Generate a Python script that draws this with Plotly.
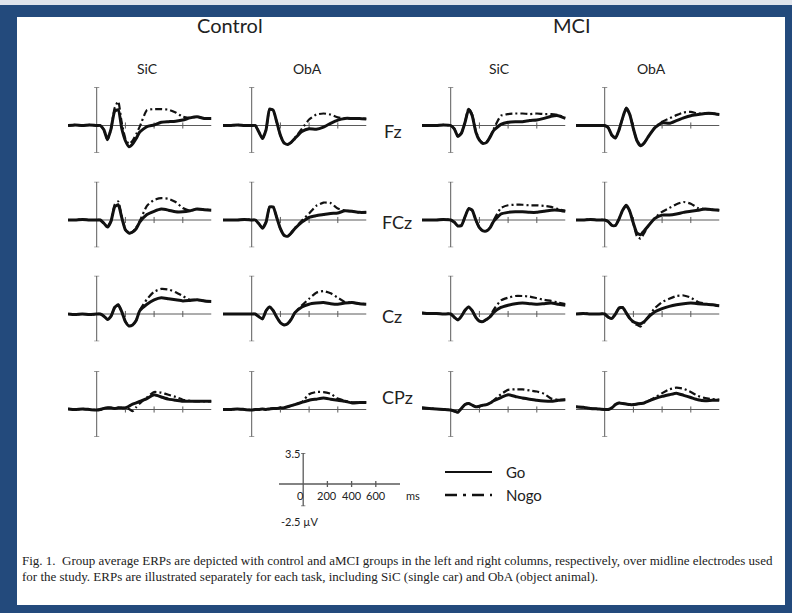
import plotly.graph_objects as go

# ---------------- data ----------------
TIME_MS = [-200, -150, -100, -50, 0, 25, 50, 75, 100, 125, 150, 175, 200, 225, 250,
           275, 300, 350, 400, 450, 500, 550, 600, 650, 700, 750, 800]
GROUPS = ["Control", "MCI"]
TASKS = ["SiC", "ObA"]
ELECTRODES = ["Fz", "FCz", "Cz", "CPz"]
SCALE_TICKS = [200, 400, 600]
SCALE_TICK_LABELS = ["200", "400", "600"]
V_MIN, V_MAX = -2.5, 3.5
T_MIN, T_MAX = -200, 800

CTRL_SIC_FZ_GO = [0, 0.05, 0, 0.05, 0, 0, -0.4, -1.3, -0.3, 1.3, 1.45, -0.3, -1.4, -1.95, -1.7, -1.2, -0.6,
                  -0.1, 0.05, 0.3, 0.35, 0.4, 0.5, 0.7, 0.8, 0.65, 0.65]
CTRL_SIC_FZ_NOGO = [0, 0.05, 0, 0.05, 0, 0, -0.4, -1.3, -0.3, 1.6, 2.2, 0.2, -1.2, -1.7, -1.4, -0.8, -0.1,
                    1.4, 1.5, 1.5, 1.45, 1.2, 0.8, 0.7, 0.8, 0.65, 0.65]
CTRL_OBA_FZ_GO = [0, 0, 0.05, 0, 0, 0, -0.6, -1.2, -0.4, 1.5, 1.4, 0.3, -0.9, -1.6, -1.75, -1.55, -1.2,
                  -0.55, -0.3, -0.35, -0.15, 0.2, 0.5, 0.65, 0.65, 0.65, 0.6]
CTRL_OBA_FZ_NOGO = [0, 0, 0.05, 0, 0, 0, -0.6, -1.2, -0.4, 1.5, 1.4, 0.3, -0.9, -1.6, -1.75, -1.55, -1.15,
                    -0.3, 0.55, 1.0, 1.1, 1.0, 0.75, 0.65, 0.65, 0.65, 0.6]
MCI_SIC_FZ_GO = [0, 0, 0, 0.05, 0, -0.3, -1.0, -0.7, 0.3, 1.5, 0.9, -0.6, -1.35, -1.65, -1.55, -1.05, -0.45,
                 0.1, 0.3, 0.35, 0.35, 0.45, 0.5, 0.65, 0.85, 0.9, 0.65]
MCI_SIC_FZ_NOGO = [0, 0, 0, 0.05, 0, -0.3, -1.0, -0.7, 0.3, 1.6, 1.0, -0.5, -1.3, -1.6, -1.5, -1.0, -0.3,
                   0.9, 1.05, 1.1, 1.1, 1.05, 1.1, 1.05, 1.05, 0.95, 0.7]
MCI_OBA_FZ_GO = [0, 0, 0, 0, 0, -0.2, -0.9, -1.15, -0.4, 0.7, 1.6, 1.0, -0.3, -1.4, -1.85, -1.6, -1.1,
                 -0.2, 0.25, 0.2, 0.45, 0.7, 0.9, 1.0, 1.1, 1.1, 1.0]
MCI_OBA_FZ_NOGO = [0, 0, 0, 0, 0, -0.2, -0.9, -1.15, -0.4, 0.7, 1.6, 1.0, -0.3, -1.4, -1.85, -1.6, -1.1,
                   -0.2, 0.35, 0.65, 0.95, 1.2, 1.25, 1.1, 1.1, 1.1, 1.0]

CTRL_SIC_FCZ_GO = [0, 0, 0.05, 0, 0, 0, -0.3, -0.65, -0.1, 1.2, 1.4, 0.2, -0.9, -1.2, -1.1, -0.8, -0.2,
                   0.5, 0.8, 1.0, 0.9, 0.75, 0.75, 0.85, 1.0, 0.95, 0.9]
CTRL_SIC_FCZ_NOGO = [0, 0, 0.05, 0, 0, 0, -0.3, -0.65, -0.1, 1.4, 1.7, 0.3, -0.9, -1.2, -1.1, -0.7, -0.1,
                     1.3, 1.85, 2.0, 1.95, 1.65, 1.1, 0.85, 1.0, 0.95, 0.9]
CTRL_OBA_FCZ_GO = [0, 0, 0, 0.05, 0, 0, -0.35, -0.75, -0.2, 1.2, 1.2, 0.2, -0.8, -1.4, -1.5, -1.2, -0.8,
                   -0.2, 0.25, 0.4, 0.5, 0.6, 0.65, 0.85, 0.8, 0.7, 0.7]
CTRL_OBA_FCZ_NOGO = [0, 0, 0, 0.05, 0, 0, -0.35, -0.75, -0.2, 1.2, 1.2, 0.2, -0.8, -1.4, -1.5, -1.2, -0.75,
                     -0.05, 0.6, 1.3, 1.6, 1.55, 1.05, 0.85, 0.8, 0.7, 0.7]
MCI_SIC_FCZ_GO = [0, 0, 0, 0.05, 0, -0.2, -0.55, -0.5, 0.3, 1.05, 0.9, 0.0, -0.7, -1.0, -1.0, -0.7, -0.1,
                  0.55, 0.7, 0.75, 0.75, 0.7, 0.7, 0.8, 0.9, 0.9, 0.8]
MCI_SIC_FCZ_NOGO = [0, 0, 0, 0.05, 0, -0.2, -0.55, -0.5, 0.3, 1.05, 0.9, 0.0, -0.7, -1.0, -1.0, -0.7, 0.0,
                    1.1, 1.35, 1.4, 1.4, 1.35, 1.35, 1.3, 1.2, 1.0, 0.85]
MCI_OBA_FCZ_GO = [0, 0, 0.05, 0, 0, -0.15, -0.5, -0.5, 0.1, 0.9, 1.35, 0.8, -0.3, -1.2, -1.35, -1.0, -0.6,
                  0.15, 0.45, 0.45, 0.55, 0.7, 0.8, 0.9, 1.0, 0.95, 0.9]
MCI_OBA_FCZ_NOGO = [0, 0, 0.05, 0, 0, -0.15, -0.5, -0.5, 0.1, 0.9, 1.35, 0.8, -0.3, -1.5, -1.7, -1.2, -0.6,
                    0.2, 0.75, 1.1, 1.45, 1.65, 1.5, 1.1, 1.0, 0.95, 0.9]

CTRL_SIC_CZ_GO = [0, -0.05, 0, -0.05, 0, 0, -0.2, -0.5, -0.2, 0.6, 0.85, 0.2, -0.7, -1.1, -1.0, -0.6, 0.3,
                  0.9, 1.3, 1.5, 1.4, 1.3, 1.2, 1.25, 1.3, 1.2, 1.15]
CTRL_SIC_CZ_NOGO = [0, -0.05, 0, -0.05, 0, 0, -0.2, -0.5, -0.2, 0.6, 0.85, 0.2, -0.7, -1.1, -1.0, -0.6, 0.35,
                    1.35, 2.05, 2.3, 2.25, 2.0, 1.65, 1.3, 1.3, 1.2, 1.15]
CTRL_OBA_CZ_GO = [0, 0, 0, 0, 0, 0, -0.25, -0.45, 0.3, 0.65, 0.3, -0.3, -0.8, -1.0, -0.9, -0.5, 0.1,
                  0.65, 0.9, 1.0, 1.05, 0.95, 0.9, 1.0, 1.05, 0.95, 0.9]
CTRL_OBA_CZ_NOGO = [0, 0, 0, 0, 0, 0, -0.25, -0.45, 0.3, 0.65, 0.3, -0.3, -0.8, -1.0, -0.9, -0.5, 0.1,
                    0.8, 1.4, 1.95, 2.1, 1.9, 1.5, 1.1, 1.05, 0.95, 0.9]
MCI_SIC_CZ_GO = [0.1, 0.05, 0.05, 0, 0, -0.3, -0.55, -0.2, 0.35, 0.65, 0.3, -0.3, -0.65, -0.7, -0.5, -0.25, 0.15,
                 0.6, 0.8, 0.95, 1.0, 0.95, 0.9, 0.95, 1.0, 0.9, 0.8]
MCI_SIC_CZ_NOGO = [0.1, 0.05, 0.05, 0, 0, -0.3, -0.55, -0.2, 0.35, 0.65, 0.3, -0.3, -0.65, -0.7, -0.5, -0.2, 0.4,
                   1.25, 1.5, 1.65, 1.65, 1.6, 1.45, 1.3, 1.2, 1.05, 0.9]
MCI_OBA_CZ_GO = [0, 0.05, 0, 0, 0, -0.3, -0.4, 0.0, 0.55, 0.6, 0.1, -0.4, -0.7, -0.85, -0.9, -0.7, -0.35,
                 0.2, 0.5, 0.7, 0.85, 0.95, 1.0, 0.95, 0.9, 0.85, 0.75]
MCI_OBA_CZ_NOGO = [0, 0.05, 0, 0, 0, -0.3, -0.4, 0.0, 0.55, 0.6, 0.1, -0.4, -0.8, -1.0, -1.15, -0.8, -0.3,
                   0.55, 1.1, 1.4, 1.65, 1.7, 1.5, 1.1, 0.95, 0.85, 0.7]

CTRL_SIC_CPZ_GO = [0.05, 0, 0.05, 0, -0.05, 0, 0.1, 0.15, 0.15, 0.1, 0.15, 0.15, 0.15, 0.3, 0.5, 0.6, 0.75,
                   1.0, 1.35, 1.15, 0.95, 0.85, 0.75, 0.75, 0.75, 0.75, 0.75]
CTRL_SIC_CPZ_NOGO = [0.05, 0, 0.05, 0, -0.05, 0, 0.1, 0.15, 0.15, 0.1, 0.15, 0.15, 0.15, 0.05, -0.15, 0.2, 0.55,
                     1.1, 1.6, 1.55, 1.35, 1.15, 0.9, 0.8, 0.75, 0.75, 0.75]
CTRL_OBA_CPZ_GO = [0, 0, 0.05, 0, -0.05, 0, 0, 0.05, 0, 0.05, 0.1, 0.1, 0.15, 0.15, 0.25, 0.35, 0.45,
                   0.65, 0.85, 0.95, 1.05, 0.95, 0.85, 0.75, 0.6, 0.65, 0.65]
CTRL_OBA_CPZ_NOGO = [0, 0, 0.05, 0, -0.05, 0, 0, 0.05, 0, 0.05, 0.1, 0.1, 0.15, 0.15, 0.25, 0.35, 0.45,
                     0.7, 1.4, 1.6, 1.6, 1.45, 1.0, 0.8, 0.65, 0.65, 0.65]
MCI_SIC_CPZ_GO = [0.15, 0.1, 0.05, 0, -0.05, -0.15, -0.25, 0.1, 0.45, 0.55, 0.4, 0.25, 0.3, 0.4, 0.45, 0.6, 0.8,
                  1.1, 1.35, 1.2, 1.05, 0.95, 0.85, 0.78, 0.75, 0.85, 0.9]
MCI_SIC_CPZ_NOGO = [0.15, 0.1, 0.05, 0, -0.05, -0.15, -0.25, 0.1, 0.45, 0.55, 0.4, 0.25, 0.3, 0.4, 0.45, 0.6, 0.85,
                    1.4, 1.8, 1.85, 1.85, 1.75, 1.65, 1.45, 1.0, 0.9, 0.9]
MCI_OBA_CPZ_GO = [0.25, 0.2, 0.1, 0.05, 0, 0.0, 0.15, 0.45, 0.6, 0.55, 0.5, 0.45, 0.45, 0.5, 0.55, 0.6, 0.75,
                  1.0, 1.2, 1.35, 1.5, 1.3, 1.1, 0.9, 0.8, 0.85, 0.85]
MCI_OBA_CPZ_NOGO = [0.25, 0.2, 0.1, 0.05, 0, 0.0, 0.15, 0.45, 0.6, 0.55, 0.5, 0.45, 0.45, 0.5, 0.55, 0.6, 0.75,
                    1.1, 1.5, 1.85, 2.0, 1.9, 1.6, 1.25, 1.05, 0.95, 0.9]

SERIES = {
    ("Control", "SiC", "Fz"): (CTRL_SIC_FZ_GO, CTRL_SIC_FZ_NOGO),
    ("Control", "ObA", "Fz"): (CTRL_OBA_FZ_GO, CTRL_OBA_FZ_NOGO),
    ("MCI", "SiC", "Fz"): (MCI_SIC_FZ_GO, MCI_SIC_FZ_NOGO),
    ("MCI", "ObA", "Fz"): (MCI_OBA_FZ_GO, MCI_OBA_FZ_NOGO),
    ("Control", "SiC", "FCz"): (CTRL_SIC_FCZ_GO, CTRL_SIC_FCZ_NOGO),
    ("Control", "ObA", "FCz"): (CTRL_OBA_FCZ_GO, CTRL_OBA_FCZ_NOGO),
    ("MCI", "SiC", "FCz"): (MCI_SIC_FCZ_GO, MCI_SIC_FCZ_NOGO),
    ("MCI", "ObA", "FCz"): (MCI_OBA_FCZ_GO, MCI_OBA_FCZ_NOGO),
    ("Control", "SiC", "Cz"): (CTRL_SIC_CZ_GO, CTRL_SIC_CZ_NOGO),
    ("Control", "ObA", "Cz"): (CTRL_OBA_CZ_GO, CTRL_OBA_CZ_NOGO),
    ("MCI", "SiC", "Cz"): (MCI_SIC_CZ_GO, MCI_SIC_CZ_NOGO),
    ("MCI", "ObA", "Cz"): (MCI_OBA_CZ_GO, MCI_OBA_CZ_NOGO),
    ("Control", "SiC", "CPz"): (CTRL_SIC_CPZ_GO, CTRL_SIC_CPZ_NOGO),
    ("Control", "ObA", "CPz"): (CTRL_OBA_CPZ_GO, CTRL_OBA_CPZ_NOGO),
    ("MCI", "SiC", "CPz"): (MCI_SIC_CPZ_GO, MCI_SIC_CPZ_NOGO),
    ("MCI", "ObA", "CPz"): (MCI_OBA_CPZ_GO, MCI_OBA_CPZ_NOGO),
}

CAPTION_1 = ("Fig. 1.  Group average ERPs are depicted with control and aMCI groups in the left and right "
             "columns, respectively, over midline electrodes used")
CAPTION_2 = ("for the study. ERPs are illustrated separately for each task, including SiC (single car) "
             "and ObA (object animal).")

# ---------------- layout geometry (pixels) ----------------
W, H = 792, 613
COL_ZERO_X = {("Control", "SiC"): 96.7, ("Control", "ObA"): 251.7,
              ("MCI", "SiC"): 450.7, ("MCI", "ObA"): 604.7}
ROW_BASE_Y = {"Fz": 125.5, "FCz": 220.0, "Cz": 314.0, "CPz": 409.5}
PX_PER_MS = 28.7 / 200.0
PX_PER_UV = 10.9

SCALE_ZERO_X, SCALE_BASE_Y = 303.2, 484.0
SCALE_PX_PER_MS = 24.2 / 200.0
SCALE_PX_PER_UV = 8.85

BG_OUTER = "#dfe4ec"
BG_FRAME = "#234a7c"
INK = "#111111"
AXIS_INK = "#5a5a5a"
SANS = "Lato"
SERIF = "Liberation Serif"


def fx(px):
    return px / W


def fy(py):
    return 1 - py / H


fig = go.Figure()
layout = dict(width=W, height=H, margin=dict(l=0, r=0, t=0, b=0),
              paper_bgcolor=BG_OUTER, plot_bgcolor="rgba(0,0,0,0)", showlegend=False)
shapes = [
    dict(type="rect", xref="paper", yref="paper", x0=0, x1=1, y0=0, y1=fy(5),
         fillcolor=BG_FRAME, line=dict(width=0), layer="below"),
    dict(type="rect", xref="paper", yref="paper", x0=fx(17), x1=fx(785), y0=fy(605), y1=fy(17),
         fillcolor="white", line=dict(width=0), layer="below"),
]
annotations = []


def add_axes(idx, zero_x, base_y, ms_px, uv_px, tick_half, cap_half, lw):
    xn = "xaxis" if idx == 1 else f"xaxis{idx}"
    yn = "yaxis" if idx == 1 else f"yaxis{idx}"
    xr = "x" if idx == 1 else f"x{idx}"
    yr = "y" if idx == 1 else f"y{idx}"
    layout[xn] = dict(domain=[fx(zero_x + T_MIN * ms_px), fx(zero_x + T_MAX * ms_px)],
                      range=[T_MIN, T_MAX], visible=False, anchor=yr)
    layout[yn] = dict(domain=[fy(base_y - V_MIN * uv_px), fy(base_y - V_MAX * uv_px)],
                      range=[V_MIN, V_MAX], visible=False, anchor=xr)
    ln = dict(color=AXIS_INK, width=lw)
    shapes.append(dict(type="line", xref=xr, yref=yr, x0=T_MIN, x1=T_MAX, y0=0, y1=0, line=ln, layer="below"))
    shapes.append(dict(type="line", xref=xr, yref=yr, x0=0, x1=0, y0=V_MIN, y1=V_MAX, line=ln, layer="below"))
    for t in SCALE_TICKS:
        shapes.append(dict(type="line", xref=xr, yref=yr, x0=t, x1=t, y0=-tick_half, y1=tick_half,
                           line=ln, layer="below"))
    for v in (V_MIN, V_MAX):
        shapes.append(dict(type="line", xref=xr, yref=yr, x0=-cap_half, x1=cap_half, y0=v, y1=v,
                           line=ln, layer="below"))
    return xr, yr


idx = 0
for elec in ELECTRODES:
    for grp in GROUPS:
        for task in TASKS:
            idx += 1
            xr, yr = add_axes(idx, COL_ZERO_X[(grp, task)], ROW_BASE_Y[elec], PX_PER_MS, PX_PER_UV,
                              0.28, 18, 1)
            go_vals, nogo_vals = SERIES[(grp, task, elec)]
            fig.add_trace(go.Scatter(x=TIME_MS, y=nogo_vals, mode="lines", xaxis=xr, yaxis=yr,
                                     line=dict(color=INK, width=2.2, dash="7px,3px,2px,3px",
                                               shape="spline", smoothing=0.5),
                                     name="Nogo", hoverinfo="skip"))
            fig.add_trace(go.Scatter(x=TIME_MS, y=go_vals, mode="lines", xaxis=xr, yaxis=yr,
                                     line=dict(color=INK, width=3, shape="spline", smoothing=0.5),
                                     name="Go", hoverinfo="skip"))

# scale-bar key axes
idx += 1
sx, sy = add_axes(idx, SCALE_ZERO_X, SCALE_BASE_Y, SCALE_PX_PER_MS, SCALE_PX_PER_UV, 0.35, 18, 1.3)
KEY_FONT = dict(family=SANS, size=11, color="#222")
for t, lab in zip(SCALE_TICKS, SCALE_TICK_LABELS):
    annotations.append(dict(x=t, y=0, xref=sx, yref=sy, text=lab, showarrow=False,
                            xanchor="center", yanchor="middle", yshift=-11, font=KEY_FONT))
annotations.append(dict(x=0, y=0, xref=sx, yref=sy, text="0", showarrow=False,
                        xanchor="center", yanchor="middle", xshift=-3, yshift=-11, font=KEY_FONT))
annotations.append(dict(x=0, y=V_MAX, xref=sx, yref=sy, text=f"{V_MAX}", showarrow=False,
                        xanchor="right", yanchor="middle", xshift=-1, font=KEY_FONT))
annotations.append(dict(x=T_MIN, y=V_MIN, xref=sx, yref=sy, text=f"{V_MIN} µV", showarrow=False,
                        xanchor="left", yanchor="middle", yshift=-15, font=KEY_FONT))
annotations.append(dict(x=T_MAX, y=0, xref=sx, yref=sy, text="ms", showarrow=False,
                        xanchor="left", yanchor="middle", xshift=4, yshift=-11, font=KEY_FONT))

# line-style key
shapes.append(dict(type="line", xref="paper", yref="paper", x0=fx(445), x1=fx(492), y0=fy(472), y1=fy(472),
                   line=dict(color=INK, width=2)))
shapes.append(dict(type="line", xref="paper", yref="paper", x0=fx(445), x1=fx(492), y0=fy(495), y1=fy(495),
                   line=dict(color=INK, width=2.5, dash="12px,6px,3px,6px")))
for label, py in (("Go", 472), ("Nogo", 495)):
    annotations.append(dict(x=fx(504), y=fy(py), xref="paper", yref="paper", text=label, showarrow=False,
                            xanchor="left", yanchor="middle", font=dict(family=SANS, size=15, color="#222")))

# headings
for grp, px in (("Control", 230), ("MCI", 572)):
    annotations.append(dict(x=fx(px), y=fy(25), xref="paper", yref="paper", text=grp, showarrow=False,
                            xanchor="center", yanchor="middle", font=dict(family=SANS, size=20, color="#222")))
for task, px in (("SiC", 147), ("ObA", 307), ("SiC", 500), ("ObA", 651)):
    annotations.append(dict(x=fx(px), y=fy(69), xref="paper", yref="paper", text=task, showarrow=False,
                            xanchor="center", yanchor="middle", font=dict(family=SANS, size=14, color="#222")))
for elec, px, py in (("Fz", 393, 131), ("FCz", 397, 222), ("Cz", 392, 316), ("CPz", 397, 397)):
    annotations.append(dict(x=fx(px), y=fy(py), xref="paper", yref="paper", text=elec, showarrow=False,
                            xanchor="center", yanchor="middle", font=dict(family=SANS, size=18, color="#222")))

# caption
for text, py in ((CAPTION_1, 560), (CAPTION_2, 576)):
    annotations.append(dict(x=fx(20), y=fy(py), xref="paper", yref="paper", text=text, showarrow=False,
                            xanchor="left", yanchor="middle", font=dict(family=SERIF, size=13, color="#222")))

layout["shapes"] = shapes
layout["annotations"] = annotations
fig.update_layout(**layout)
fig.write_html("out.html", config={"displayModeBar": False},
               post_script="document.body.style.margin='0';document.body.style.padding='0';")
